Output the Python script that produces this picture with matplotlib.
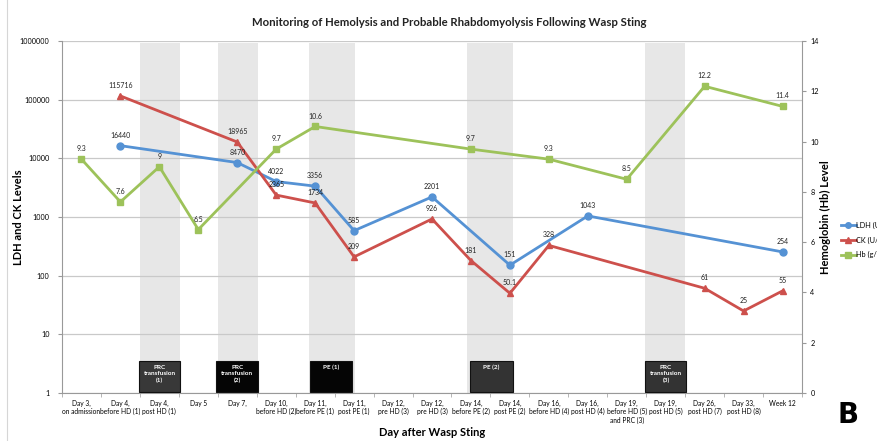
import matplotlib
matplotlib.use("Agg")
import matplotlib.pyplot as plt
import matplotlib.transforms as mtransforms
from matplotlib.patches import Rectangle
from matplotlib.lines import Line2D
import numpy as np

plt.rcParams['font.family'] = ['Lato', 'DejaVu Sans']

# categories on the x axis
days = [
    'Day 3,\non admission', 'Day 4,\nbefore HD (1)', 'Day 4,\npost HD (1)', 'Day 5',
    'Day 7,', 'Day 10,\nbefore HD (2)', 'Day 11,\nbefore PE (1)', 'Day 11,\npost PE (1)',
    'Day 12,\npre HD (3)', 'Day 12,\npre HD (3)', 'Day 14,\nbefore PE (2)',
    'Day 14,\npost PE (2)', 'Day 16,\nbefore HD (4)', 'Day 16,\npost HD (4)',
    'Day 19,\nbefore HD (5)\nand PRC (3)', 'Day 19,\npost HD (5)', 'Day 26,\npost HD (7)',
    'Day 33,\npost HD (8)', 'Week 12',
]

# LDH (U/L)
ldh_idx = [1, 4, 5, 6, 7, 9, 11, 13, 18]
ldh_val = [16440, 8470, 4022, 3356, 585, 2201, 151, 1043, 254]
ldh_lbl = ['16440', '8470', '4022', '3356', '585', '2201', '151', '1043', '254']

# CK (U/L)
ck_idx = [1, 4, 5, 6, 7, 9, 10, 11, 12, 16, 17, 18]
ck_val = [115716, 18965, 2365, 1734, 209, 926, 181, 50.1, 328, 61, 25, 55]
ck_lbl = ['115716', '18965', '2365', '1734', '209', '926', '181', '50.1', '328', '61', '25', '55']

# Hb (g/dL)
hb_idx = [0, 1, 2, 3, 5, 6, 10, 12, 14, 16, 18]
hb_val = [9.3, 7.6, 9, 6.5, 9.7, 10.6, 9.7, 9.3, 8.5, 12.2, 11.4]
hb_lbl = ['9.3', '7.6', '9', '6.5', '9.7', '10.6', '9.7', '9.3', '8.5', '12.2', '11.4']

# treatment periods (shaded bands, in category units) and their boxes
bands = [(1.50, 2.53), (3.51, 4.54), (5.85, 7.03), (9.89, 11.09), (14.46, 15.49)]
boxes = [(1.48, 2.53, 'PRC\ntransfusion\n(1)', '#383838'),
         (3.46, 4.54, 'PRC\ntransfusion\n(2)', '#050505'),
         (5.87, 6.95, 'PE (1)', '#050505'),
         (9.97, 11.07, 'PE (2)', '#333333'),
         (14.48, 15.53, 'PRC\ntransfusion\n(3)', '#333333')]

c_ldh = '#5592d4'
c_ck = '#cd504c'
c_hb = '#9dc25a'

fig = plt.figure(figsize=(8.78, 4.41), dpi=100)
ax = fig.add_axes([62 / 878, 48 / 441, 740 / 878, 352 / 441])
ax.set_yscale('log')
ax.set_ylim(1, 1e6)
ax.set_xlim(-0.5, len(days) - 0.5)

for l, r in bands:
    ax.axvspan(l, r, ymin=0, ymax=0.995, color='#e7e7e7', lw=0, zorder=0)

ax.yaxis.grid(True, color='#c9c9c9', lw=0.9, zorder=1)
ax.set_axisbelow(True)

ax.plot(ldh_idx, ldh_val, color=c_ldh, lw=2, marker='o', ms=5, zorder=3)
ax.plot(ck_idx, ck_val, color=c_ck, lw=2, marker='^', ms=5, zorder=3)
for x, y, s in zip(ldh_idx, ldh_val, ldh_lbl):
    ax.annotate(s, (x, y), xytext=(0, 5), textcoords='offset points',
                ha='center', va='bottom', fontsize=5, color='#222222', zorder=5)
for x, y, s in zip(ck_idx, ck_val, ck_lbl):
    ax.annotate(s, (x, y), xytext=(0, 5), textcoords='offset points',
                ha='center', va='bottom', fontsize=5, color='#222222', zorder=5)

ax.set_yticks([1, 10, 100, 1000, 10000, 100000, 1000000])
ax.set_yticklabels(['1', '10', '100', '1000', '10000', '100000', '1000000'])
ax.yaxis.set_minor_locator(matplotlib.ticker.NullLocator())
ax.tick_params(axis='y', labelsize=5.2, length=3, color='#999999', pad=6)
ax.set_xticks(np.arange(len(days)))
ax.set_xticklabels(days, fontsize=4.8, linespacing=1.2)
ax.set_xticks(np.arange(len(days) + 1) - 0.5, minor=True)
ax.tick_params(axis='x', which='major', length=0, pad=5)
ax.tick_params(axis='x', which='minor', length=3, color='#aaaaaa')
for side in ['left', 'bottom']:
    ax.spines[side].set_color('#999999')
ax.spines['top'].set_visible(False)
ax.spines['right'].set_visible(False)
ax.set_ylabel('LDH and CK Levels', fontsize=8, fontweight='bold')
ax.yaxis.set_label_coords((24 - 62) / 740, 0.5)
ax.set_xlabel('Day after Wasp Sting', fontsize=8, fontweight='bold', va='center')
ax.xaxis.set_label_coords(0.5, (441 - 432 - 48) / 352)

ax2 = ax.twinx()
ax2.set_ylim(0, 14)
ax2.set_yticks(np.arange(0, 15, 2))
ax2.tick_params(axis='y', labelsize=5.2, length=3, color='#999999', pad=3)
ax2.spines['right'].set_color('#999999')
for side in ['left', 'bottom', 'top']:
    ax2.spines[side].set_visible(False)
ax2.plot(hb_idx, hb_val, color=c_hb, lw=2, marker='s', ms=5, zorder=3)
for x, y, s in zip(hb_idx, hb_val, hb_lbl):
    ax2.annotate(s, (x, y), xytext=(0, 5), textcoords='offset points',
                 ha='center', va='bottom', fontsize=5, color='#222222', zorder=5)
ax2.set_ylabel('Hemoglobin (Hb) Level', fontsize=8, fontweight='bold', va='center')
ax2.yaxis.set_label_coords((825 - 62) / 740, (441 - 217 - 48) / 352)

trans = mtransforms.blended_transform_factory(ax2.transData, ax2.transAxes)
for l, r, txt, col in boxes:
    ax2.add_patch(Rectangle((l, 0.003), r - l, 0.087, transform=trans,
                            facecolor=col, edgecolor='#111111', lw=0.8, zorder=6))
    ax2.text((l + r) / 2, 0.08, txt, transform=trans, ha='center', va='top',
             fontsize=4.6, fontweight='bold', color='white', linespacing=1.35, zorder=7)

handles = [Line2D([], [], color=c_ldh, lw=2, marker='o', ms=4),
           Line2D([], [], color=c_ck, lw=2, marker='^', ms=4),
           Line2D([], [], color=c_hb, lw=2, marker='s', ms=4)]
fig.legend(handles, ['LDH (U/L)', 'CK (U/L)', 'Hb (g/dL)'], loc='upper left',
           bbox_to_anchor=(838 / 878, 1 - 219 / 441), frameon=False, fontsize=5.3,
           handlelength=2.0, handletextpad=0.1, labelspacing=1.0, borderaxespad=0)

fig.text(449 / 878, 1 - 22 / 441,
         'Monitoring of Hemolysis and Probable Rhabdomyolysis Following Wasp Sting',
         ha='center', va='center', fontsize=8.2, fontweight='bold', color='#222222')
fig.text(848 / 878, 1 - 415 / 441, 'B', ha='center', va='center',
         fontsize=20, fontweight='heavy', family='DejaVu Sans')
fig.add_artist(Line2D([7 / 878, 7 / 878], [0, 1], color='#d6d6d6', lw=0.8))

fig.savefig('out.png', dpi=100)
